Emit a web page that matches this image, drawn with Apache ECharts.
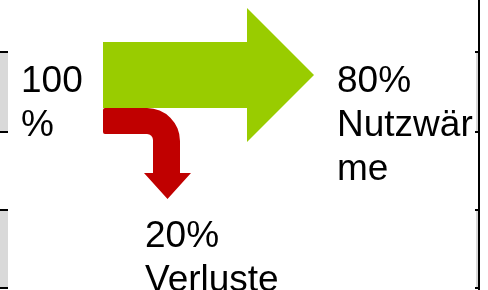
<!DOCTYPE html>
<html>
<head>
<meta charset="utf-8">
<script src="https://cdn.jsdelivr.net/npm/echarts@6/dist/echarts.min.js"></script>
<style>html,body{margin:0;padding:0;background:#fff;}#c{width:488px;height:290px;}</style>
</head>
<body>
<div id="c"></div>
<script>
// Data
const shares = [100, 80, 20];
const inputLabel = ['100', '%'];
const usefulLabel = ['80%', 'Nutzwär', 'me'];
const lossLabel = ['20%', 'Verluste'];
const colors = { useful: '#99CC00', loss: '#C00000', frame: '#D9D9D9' };

const chart = echarts.init(document.getElementById('c'), null, { renderer: 'canvas' });
const FONT = '37px "Liberation Sans", Arial, sans-serif';
const LH = 44;

function textLines(lines, x, y0) {
  return lines.map((t, i) => ({
    type: 'text', x: x, y: y0 + i * LH,
    style: { text: t, font: FONT, fill: '#000', verticalAlign: 'top', align: 'left' }
  }));
}

const elems = [];
// frame fragments left / right
[[52, 132], [210, 288]].forEach(([a, b]) => {
  elems.push({ type: 'rect', shape: { x: 0, y: a, width: 8, height: b - a }, style: { fill: colors.frame } });
  elems.push({ type: 'line', shape: { x1: 0, y1: a, x2: 8, y2: a }, style: { stroke: '#000', lineWidth: 2 } });
  elems.push({ type: 'line', shape: { x1: 0, y1: b, x2: 8, y2: b }, style: { stroke: '#000', lineWidth: 2 } });
  elems.push({ type: 'rect', shape: { x: 476, y: a, width: 2, height: b - a }, style: { fill: colors.frame } });
  elems.push({ type: 'line', shape: { x1: 475, y1: a, x2: 479, y2: a }, style: { stroke: '#000', lineWidth: 2 } });
  elems.push({ type: 'line', shape: { x1: 475, y1: b, x2: 479, y2: b }, style: { stroke: '#000', lineWidth: 2 } });
});
elems.push({ type: 'line', shape: { x1: 479, y1: 0, x2: 479, y2: 290 }, style: { stroke: '#000', lineWidth: 2 } });

function renderArrows(params, api) {
  return {
    type: 'group',
    children: [
      {
        type: 'path',
        shape: { pathData: 'M105,108 L147,108 A33,33 0 0 1 180,141 L180,173 L191,173 L167.5,199 L144,173 L153,173 L153,140 A6,6 0 0 0 147,134 L105,134 Q103,134 103,132 L103,110 Q103,108 105,108 Z' },
        style: { fill: colors.loss }
      },
      {
        type: 'polygon',
        shape: { points: [[103, 42], [247, 42], [247, 8], [314, 75], [247, 142], [247, 108], [103, 108]] },
        style: { fill: colors.useful }
      }
    ]
  };
}

chart.setOption({
  animation: false,
  series: [{
    type: 'custom',
    coordinateSystem: 'none',
    silent: true,
    data: [shares],
    renderItem: renderArrows
  }],
  graphic: { elements: elems.concat(textLines(inputLabel, 21, 63), textLines(usefulLabel, 337, 63), textLines(lossLabel, 145, 218)) }
});
</script>
</body>
</html>
